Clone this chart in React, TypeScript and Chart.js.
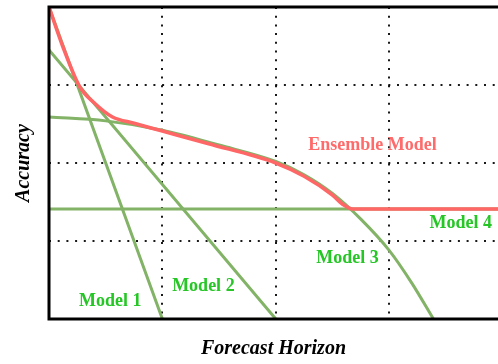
import React, { useEffect, useRef } from "react";
import { Chart, registerables } from "chart.js";

Chart.register(...registerables);

// Axis ranges / grid steps
const horizonMin = 0;
const horizonMax = 3.96;
const accuracyMin = 0;
const accuracyMax = 4;
const gridValues = [1, 2, 3];

// Series (x = forecast horizon, y = accuracy)
const model1X = [0, 1.0];
const model1Y = [4.0, 0];
const model2X = [0, 2.0];
const model2Y = [3.45, 0];
const model3X = [0, 0.5, 1.0, 1.5, 2.0, 2.25, 2.5, 2.75, 3.0, 3.2, 3.39];
const model3Y = [2.59, 2.54, 2.42, 2.23, 2.02, 1.85, 1.61, 1.28, 0.88, 0.46, 0];
const model4X = [0, 3.96];
const model4Y = [1.41, 1.41];
const ensembleX = [0, 0.12, 0.27, 0.4, 0.56, 0.75, 1.0, 1.4, 2.0, 2.25, 2.5, 2.6, 2.68, 3.96];
const ensembleY = [4.0, 3.5, 2.98, 2.77, 2.59, 2.51, 2.41, 2.25, 2.0, 1.83, 1.59, 1.46, 1.41, 1.41];

// Annotation labels (anchored in data coordinates)
const labelTexts = ["Model 1", "Model 2", "Model 3", "Model 4", "Ensemble Model"];
const labelX = [0.265, 1.086, 2.358, 3.355, 2.287];
const labelY = [0.22, 0.42, 0.78, 1.22, 2.22];
const labelColors = ["#26c626", "#26c626", "#26c626", "#26c626", "#ff6b6b"];

const GREEN = "#82b366";
const RED = "#ff6666";

const pts = (xs: number[], ys: number[]) => xs.map((x, i) => ({ x, y: ys[i] }));

const framePlugin = {
  id: "frameAndLabels",
  afterDatasetsDraw(chart: any) {
    const { ctx, chartArea, scales } = chart;
    const { left, right, top, bottom } = chartArea;
    ctx.save();
    ctx.strokeStyle = "#000";
    ctx.lineWidth = 3;
    ctx.beginPath();
    ctx.moveTo(right + 2, top);
    ctx.lineTo(left, top);
    ctx.lineTo(left, bottom);
    ctx.lineTo(right + 2, bottom);
    ctx.stroke();

    ctx.font = "bold 18px 'Liberation Serif', serif";
    ctx.textAlign = "left";
    ctx.textBaseline = "middle";
    labelTexts.forEach((t, i) => {
      ctx.fillStyle = labelColors[i];
      ctx.fillText(t, scales.x.getPixelForValue(labelX[i]), scales.y.getPixelForValue(labelY[i]));
    });
    ctx.restore();
  },
};

export default function App() {
  const ref = useRef<HTMLCanvasElement | null>(null);

  useEffect(() => {
    if (!ref.current) return;
    const lineBase = {
      pointRadius: 0,
      fill: false,
      borderCapStyle: "round" as const,
      borderJoinStyle: "round" as const,
    };
    const chart = new Chart(ref.current, {
      type: "line",
      data: {
        datasets: [
          {
            ...lineBase,
            label: "Ensemble Model",
            data: pts(ensembleX, ensembleY),
            borderColor: RED,
            borderWidth: 3.6,
            cubicInterpolationMode: "monotone",
          },
          { ...lineBase, label: "Model 1", data: pts(model1X, model1Y), borderColor: GREEN, borderWidth: 3 },
          { ...lineBase, label: "Model 2", data: pts(model2X, model2Y), borderColor: GREEN, borderWidth: 3 },
          {
            ...lineBase,
            label: "Model 3",
            data: pts(model3X, model3Y),
            borderColor: GREEN,
            borderWidth: 3,
            cubicInterpolationMode: "monotone",
          },
          { ...lineBase, label: "Model 4", data: pts(model4X, model4Y), borderColor: GREEN, borderWidth: 3 },
        ],
      },
      options: {
        responsive: false,
        animation: false,
        layout: { padding: { left: 0, top: 7, right: 0, bottom: 0 } },
        plugins: { legend: { display: false }, tooltip: { enabled: false } },
        scales: {
          x: {
            type: "linear",
            min: horizonMin,
            max: horizonMax,
            ticks: { display: false, stepSize: 1 },
            border: { display: false, dash: [2, 6.7] },
            grid: {
              drawTicks: false,
              lineWidth: 2,
              color: (c: any) => (gridValues.includes(c.tick?.value) ? "rgba(0,0,0,0.9)" : "rgba(0,0,0,0)"),
            },
            title: {
              display: true,
              text: "Forecast Horizon",
              color: "#000",
              font: { family: "'Liberation Serif', serif", size: 20, weight: "bold", style: "italic", lineHeight: 1.2 },
              padding: { top: 18, bottom: 3 },
            },
          },
          y: {
            type: "linear",
            min: accuracyMin,
            max: accuracyMax,
            ticks: { display: false, stepSize: 1 },
            border: { display: false, dash: [2, 6.7] },
            grid: {
              drawTicks: false,
              lineWidth: 2,
              color: (c: any) => (gridValues.includes(c.tick?.value) ? "rgba(0,0,0,0.9)" : "rgba(0,0,0,0)"),
            },
            title: {
              display: true,
              text: "Accuracy",
              color: "#000",
              font: { family: "'Liberation Serif', serif", size: 20, weight: "bold", style: "italic", lineHeight: 1.2 },
              padding: { top: 12, bottom: 13 },
            },
          },
        },
      },
      plugins: [framePlugin],
    });
    return () => chart.destroy();
  }, []);

  return (
    <div style={{ position: "absolute", left: 0, top: 0, width: 498, height: 364, background: "#fff" }}>
      <canvas ref={ref} width={498} height={364} style={{ display: "block" }} />
    </div>
  );
}
